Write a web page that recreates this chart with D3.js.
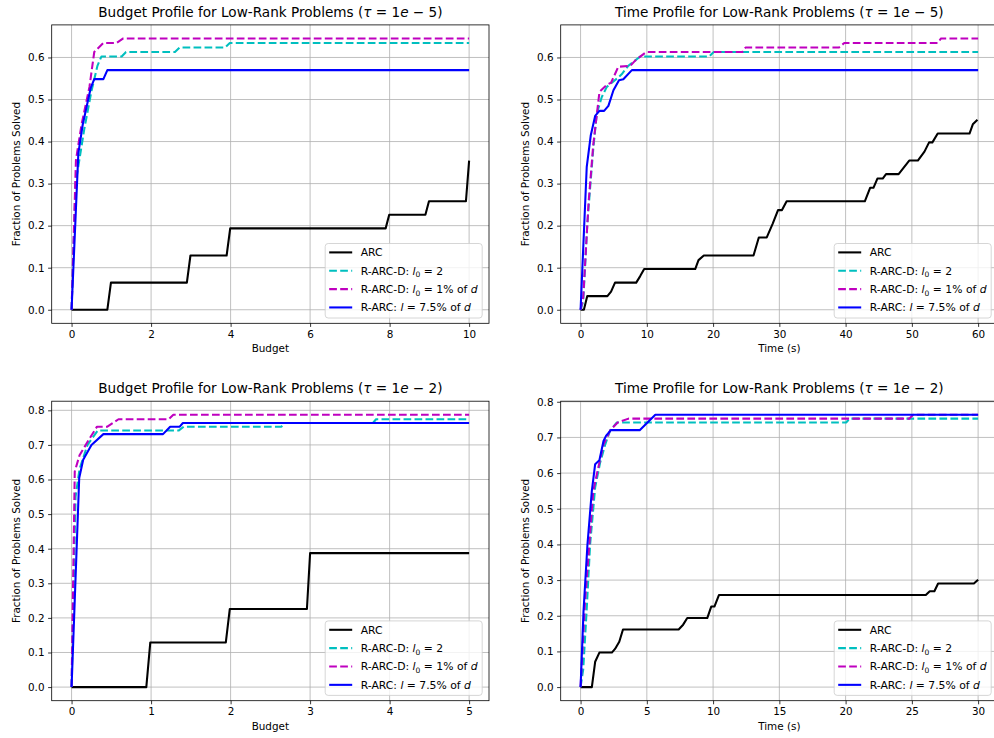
<!DOCTYPE html>
<html><head><meta charset="utf-8">
<script src="https://cdn.jsdelivr.net/npm/d3@7"></script>
<style>
body{margin:0;background:#fff;}
svg{display:block;font-family:"DejaVu Sans",sans-serif;}
</style>
</head><body><svg id="c" width="994" height="738"></svg>
<script>
// ---------- DATA ----------
const seriesNames = ["ARC", "R-ARC-D: l0 = 2", "R-ARC-D: l0 = 1% of d", "R-ARC: l = 7.5% of d"];
const seriesColors = ["#000000", "#00bfbf", "#bf00bf", "#0000ff"];
const seriesDashed = [false, true, true, false];

// Budget profile, tau = 1e-5
const budget5_ARC = [[0,0],[0.9,0],[0.99,0.0645],[2.9,0.0645],[2.99,0.129],[3.9,0.129],[3.99,0.1935],[7.9,0.1935],[7.99,0.2258],[8.9,0.2258],[8.99,0.258],[9.92,0.258],[10,0.3548]];
const budget5_RARCD_2 = [[0,0],[0.1,0.3],[0.32,0.43],[0.5,0.52],[0.65,0.58],[0.75,0.6022],[1.26,0.6022],[1.37,0.6129],[2.6,0.6129],[2.72,0.6237],[3.86,0.6237],[3.98,0.6344],[10,0.6344]];
const budget5_RARCD_1pct = [[0,0],[0.11,0.356],[0.25,0.44],[0.45,0.53],[0.57,0.6129],[0.8,0.6344],[1.13,0.6344],[1.3,0.6452],[10,0.6452]];
const budget5_RARC = [[0,0],[0.17,0.372],[0.28,0.44],[0.48,0.527],[0.57,0.5484],[0.8,0.5484],[0.9,0.5699],[10,0.5699]];

// Time profile, tau = 1e-5
const time5_ARC = [[0,0],[0.5,0],[1.0,0.0323],[4.05,0.0323],[4.6,0.043],[5.2,0.0645],[8.4,0.0645],[9.0,0.08],[9.6,0.0968],[17.3,0.0968],[17.8,0.118],[18.6,0.129],[26.1,0.129],[26.9,0.172],[28.1,0.172],[29.0,0.205],[29.8,0.237],[30.4,0.237],[31.1,0.258],[42.9,0.258],[43.7,0.29],[44.2,0.29],[44.8,0.312],[45.6,0.312],[46.1,0.3226],[48,0.3226],[49.6,0.3548],[50.9,0.3548],[51.9,0.376],[52.6,0.398],[53.1,0.398],[53.9,0.419],[58.7,0.419],[59.2,0.441],[59.9,0.452]];
const time5_RARCD_2 = [[0,0],[0.4,0.02],[1.0,0.2],[1.44,0.29],[1.94,0.387],[2.45,0.467],[3.2,0.506],[3.96,0.53],[5.5,0.55],[6.2,0.56],[7.2,0.58],[9,0.6022],[19.4,0.6022],[20.1,0.6129],[60,0.6129]];
const time5_RARCD_1pct = [[0,0],[0.4,0.03],[1.2,0.253],[1.9,0.39],[2.85,0.518],[3.96,0.535],[4.6,0.54],[5.7,0.578],[7.5,0.58],[8.2,0.592],[9.0,0.602],[9.9,0.6129],[24.4,0.6129],[24.9,0.6237],[39,0.6237],[39.8,0.6344],[53.9,0.6344],[54.4,0.6452],[60,0.6452]];
const time5_RARC = [[0,0],[0.93,0.34],[1.54,0.415],[2.2,0.461],[2.85,0.473],[3.55,0.473],[4.2,0.485],[4.96,0.522],[5.8,0.546],[6.45,0.548],[7.74,0.5699],[60,0.5699]];

// Budget profile, tau = 1e-2
const budget2_ARC = [[0,0],[0.94,0],[0.99,0.129],[1.94,0.129],[1.99,0.2258],[2.96,0.2258],[3.0,0.3871],[5,0.3871]];
const budget2_RARCD_2 = [[0,0],[0.05,0.55],[0.1,0.63],[0.2,0.7],[0.33,0.7419],[1.35,0.7419],[1.41,0.7527],[2.64,0.7527],[2.68,0.7634],[3.79,0.7634],[3.83,0.7742],[5,0.7742]];
const budget2_RARCD_1pct = [[0,0],[0.04,0.623],[0.1,0.67],[0.23,0.72],[0.32,0.7527],[0.45,0.7527],[0.59,0.7742],[1.22,0.7742],[1.28,0.787],[5,0.787]];
const budget2_RARC = [[0,0],[0.096,0.604],[0.146,0.657],[0.25,0.70],[0.4,0.7312],[1.15,0.7312],[1.24,0.7527],[1.36,0.7527],[1.40,0.7634],[5,0.7634]];

// Time profile, tau = 1e-2
const time2_ARC = [[0,0],[0.85,0],[1.1,0.071],[1.42,0.0968],[2.36,0.0968],[2.6,0.107],[2.92,0.127],[3.2,0.1613],[7.4,0.1613],[7.74,0.175],[8.05,0.1935],[9.56,0.1935],[9.86,0.2258],[10.1,0.2258],[10.44,0.258],[26.05,0.258],[26.35,0.2688],[26.7,0.2688],[26.98,0.2903],[29.68,0.2903],[30,0.3011]];
const time2_RARCD_2 = [[0,0],[0.2,0.05],[0.45,0.21],[0.72,0.40],[1.1,0.56],[1.48,0.63],[1.86,0.68],[2.24,0.7204],[2.74,0.7419],[20.04,0.7419],[20.3,0.7527],[30,0.7527]];
const time2_RARCD_1pct = [[0,0],[0.34,0.24],[0.66,0.40],[0.96,0.55],[1.34,0.616],[1.73,0.68],[2.24,0.7204],[2.8,0.7419],[3.62,0.7527],[24.8,0.7527],[25.1,0.7634],[30,0.7634]];
const time2_RARC = [[0,0],[0.22,0.212],[0.52,0.40],[0.85,0.55],[1.1,0.625],[1.42,0.636],[1.73,0.69],[1.93,0.705],[2.29,0.7204],[4.46,0.7204],[5.64,0.7634],[30,0.7634]];

const xTicksBudget5 = [0,2,4,6,8,10];
const xTicksTime5 = [0,10,20,30,40,50,60];
const xTicksBudget2 = [0,1,2,3,4,5];
const xTicksTime2 = [0,5,10,15,20,25,30];
const yTicksTop = [0,0.1,0.2,0.3,0.4,0.5,0.6];
const yTicksBottom = [0,0.1,0.2,0.3,0.4,0.5,0.6,0.7,0.8];

const titleBudget = "Budget Profile for Low-Rank Problems";
const titleTime = "Time Profile for Low-Rank Problems";
const tau5 = "5", tau2 = "2";
const xLabelBudget = "Budget", xLabelTime = "Time (s)";
const yLabel = "Fraction of Problems Solved";

// ---------- LAYOUT ----------
const panels = [
  {rect:[51.7,24.9,489,323.3], title:titleBudget, tau:tau5, xlabel:xLabelBudget, xTicks:xTicksBudget5, yTicks:yTicksTop,
   series:[budget5_ARC,budget5_RARCD_2,budget5_RARCD_1pct,budget5_RARC]},
  {rect:[560.7,24.9,998,323.3], title:titleTime, tau:tau5, xlabel:xLabelTime, xTicks:xTicksTime5, yTicks:yTicksTop,
   series:[time5_ARC,time5_RARCD_2,time5_RARCD_1pct,time5_RARC]},
  {rect:[51.7,401.2,489,700.7], title:titleBudget, tau:tau2, xlabel:xLabelBudget, xTicks:xTicksBudget2, yTicks:yTicksBottom,
   series:[budget2_ARC,budget2_RARCD_2,budget2_RARCD_1pct,budget2_RARC]},
  {rect:[560.7,401.2,998,700.7], title:titleTime, tau:tau2, xlabel:xLabelTime, xTicks:xTicksTime2, yTicks:yTicksBottom,
   series:[time2_ARC,time2_RARCD_2,time2_RARCD_1pct,time2_RARC]}
];

const legendTokens = [
  [["ARC"]],
  [["R-ARC-D: "],["l","i"],["0","sub"],[" = 2"]],
  [["R-ARC-D: "],["l","i"],["0","sub"],[" = 1% of "],["d","i"]],
  [["R-ARC: "],["l","i"],[" = 7.5% of "],["d","i"]]
];

const svg = d3.select("#c");
const FS = 10.4;
const LFS = 10.8;
const TFS = 13.6;

function addTokens(textSel, tokens, fs) {
  let lastSub = false;
  tokens.forEach(t => {
    const ts = textSel.append("tspan").text(t[0]);
    if (t[1] === "i") ts.attr("font-style", "italic");
    if (t[1] === "sub") { ts.attr("font-size", fs*0.7).attr("dy", fs*0.25); lastSub = true; }
    else if (lastSub) { ts.attr("dy", -fs*0.25); lastSub = false; }
  });
}

panels.forEach((p, pi) => {
  const [x0,y0,x1,y1] = p.rect;
  const allX = p.series.flat().map(d=>d[0]);
  const allY = p.series.flat().map(d=>d[1]);
  const xmin = d3.min(allX), xmax = d3.max(allX), ymin = d3.min(allY), ymax = d3.max(allY);
  const xr = xmax - xmin, yr = ymax - ymin;
  const x = d3.scaleLinear().domain([xmin-0.05*xr, xmax+0.05*xr]).range([x0,x1]);
  const y = d3.scaleLinear().domain([ymin-0.05*yr, ymax+0.05*yr]).range([y1,y0]);
  const g = svg.append("g");

  const cid = "clip"+pi;
  svg.append("clipPath").attr("id",cid).append("rect").attr("x",x0).attr("y",y0).attr("width",x1-x0).attr("height",y1-y0);

  // grid
  const grid = g.append("g").attr("stroke","#b0b0b0").attr("stroke-width",0.8);
  p.xTicks.forEach(t => grid.append("line").attr("x1",x(t)).attr("x2",x(t)).attr("y1",y0).attr("y2",y1));
  p.yTicks.forEach(t => grid.append("line").attr("x1",x0).attr("x2",x1).attr("y1",y(t)).attr("y2",y(t)));

  // lines
  const line = d3.line().x(d=>x(d[0])).y(d=>y(d[1]));
  const lg = g.append("g").attr("clip-path",`url(#${cid})`);
  p.series.forEach((s,i) => {
    lg.append("path").attr("d", line(s)).attr("fill","none")
      .attr("stroke", seriesColors[i]).attr("stroke-width",2.08)
      .attr("stroke-linejoin","round")
      .attr("stroke-dasharray", seriesDashed[i] ? "7.7,3.3" : null);
  });

  // spines
  g.append("rect").attr("x",x0).attr("y",y0).attr("width",x1-x0).attr("height",y1-y0)
    .attr("fill","none").attr("stroke","#000").attr("stroke-width",0.8);

  // axes via d3
  const xAxis = d3.axisBottom(x).tickValues(p.xTicks).tickFormat(d3.format("d")).tickSize(3.6).tickPadding(3.6);
  const yAxis = d3.axisLeft(y).tickValues(p.yTicks).tickFormat(d3.format(".1f")).tickSize(3.6).tickPadding(3.6);
  const gx = g.append("g").attr("transform",`translate(0,${y1})`).call(xAxis);
  const gy = g.append("g").attr("transform",`translate(${x0},0)`).call(yAxis);
  [gx,gy].forEach(a => {
    a.select(".domain").remove();
    a.selectAll(".tick line").attr("stroke","#000").attr("stroke-width",0.8);
    a.selectAll(".tick text").attr("fill","#000").attr("font-size",FS).attr("font-family","DejaVu Sans");
  });

  // title
  const tt = g.append("text").attr("x",(x0+Math.min(x1,x0+437.3))/2).attr("y",y0-8)
    .attr("text-anchor","middle").attr("font-size",TFS).attr("fill","#000");
  addTokens(tt, [[p.title+" ("],["τ","i"],[" = 1"],["e","i"],[" − "+p.tau+")"]], TFS);

  // axis labels
  g.append("text").attr("x",(x0+x1)/2).attr("y",y1+29).attr("text-anchor","middle")
    .attr("font-size",FS).attr("fill","#000").text(p.xlabel);
  const ylx = x0 - 32;
  g.append("text").attr("transform",`translate(${ylx},${(y0+y1)/2}) rotate(-90)`)
    .attr("text-anchor","middle").attr("font-size",FS).attr("fill","#000").text(yLabel);

  // legend
  const lw = 157, lh = 74.5;
  const lx = x1 - 6.8 - lw, ly = y1 - 5.3 - lh;
  const leg = g.append("g");
  leg.append("rect").attr("x",lx).attr("y",ly).attr("width",lw).attr("height",lh).attr("rx",3)
    .attr("fill","#fff").attr("fill-opacity",0.8).attr("stroke","#cccccc").attr("stroke-width",0.8);
  seriesNames.forEach((nm,i) => {
    const cy = ly + 8.9 + i*18.35;
    leg.append("line").attr("x1",lx+4).attr("x2",lx+27).attr("y1",cy).attr("y2",cy)
      .attr("stroke",seriesColors[i]).attr("stroke-width",2.08)
      .attr("stroke-dasharray", seriesDashed[i] ? "7.7,3.3" : null);
    const t = leg.append("text").attr("x",lx+35.5).attr("y",cy+3.9).attr("font-size",LFS).attr("fill","#000");
    addTokens(t, legendTokens[i], LFS);
  });
});
</script>
</body></html>
